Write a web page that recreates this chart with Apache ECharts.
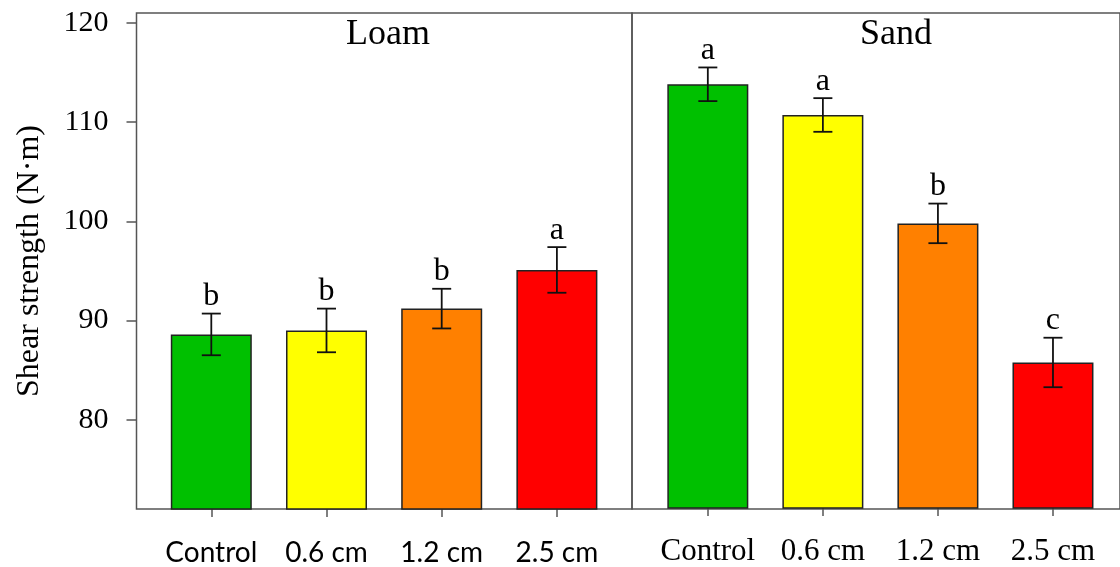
<!DOCTYPE html>
<html>
<head>
<meta charset="utf-8">
<script src="https://cdn.jsdelivr.net/npm/echarts@6/dist/echarts.min.js"></script>
<style>
html,body{margin:0;padding:0;background:#fff;}
#chart{width:1120px;height:567px;}
</style>
</head>
<body>
<div id="chart"></div>
<script>
const categories = ['Control', '0.6 cm', '1.2 cm', '2.5 cm'];
const panelTitles = ['Loam', 'Sand'];
const loamMean = [88.6, 89.0, 91.2, 95.1];
const loamErr = [2.1, 2.2, 2.0, 2.3];
const loamLetters = ['b', 'b', 'b', 'a'];
const sandMean = [113.8, 110.7, 99.75, 85.7];
const sandErr = [1.7, 1.7, 2.0, 2.5];
const sandLetters = ['a', 'a', 'b', 'c'];
const yTicks = [80, 90, 100, 110, 120];
const yMin = 71, yMax = 121;
const barColors = ['#00c000', '#ffff00', '#ff8000', '#ff0000'];

const SERIF = '"Liberation Serif", "Times New Roman", serif';
const SANS = 'Lato, "Open Sans", sans-serif';
const frameColor = '#555';

function errRender(letters) {
  return function (params, api) {
    const x = api.value(0), m = api.value(1), e = api.value(2);
    const top = api.coord([x, m + e]);
    const bot = api.coord([x, m - e]);
    const hw = 9.5;
    const st = { stroke: '#111', lineWidth: 1.8 };
    return {
      type: 'group',
      children: [
        { type: 'line', shape: { x1: top[0], y1: top[1], x2: bot[0], y2: bot[1] }, style: st },
        { type: 'line', shape: { x1: top[0] - hw, y1: top[1], x2: top[0] + hw, y2: top[1] }, style: st },
        { type: 'line', shape: { x1: bot[0] - hw, y1: bot[1], x2: bot[0] + hw, y2: bot[1] }, style: st },
        { type: 'text', x: top[0], y: top[1] - 1,
          style: { text: letters[params.dataIndex], textAlign: 'center', textVerticalAlign: 'bottom',
                   font: '32px ' + SERIF, fill: '#000' } }
      ]
    };
  };
}

const chart = echarts.init(document.getElementById('chart'), null, { renderer: 'canvas' });
const option = {
  animation: false,
  color: barColors,
  title: [
    { text: panelTitles[0], left: 388, top: 17, textAlign: 'center', padding: 0,
      textStyle: { fontFamily: SERIF, fontSize: 36, fontWeight: 'normal', color: '#000' } },
    { text: panelTitles[1], left: 896, top: 17, textAlign: 'center', padding: 0,
      textStyle: { fontFamily: SERIF, fontSize: 36, fontWeight: 'normal', color: '#000' } }
  ],
  grid: [
    { left: 153.7, top: 13, width: 460.8, height: 496 },
    { left: 650.3, top: 13, width: 460.2, height: 496 },
    { left: 136.5, top: 13, width: 495.5, height: 496, show: true, borderColor: frameColor, borderWidth: 1.5, backgroundColor: 'transparent' },
    { left: 632, top: 13, width: 500, height: 496, show: true, borderColor: frameColor, borderWidth: 1.5, backgroundColor: 'transparent' }
  ],
  xAxis: [
    { type: 'category', gridIndex: 0, data: categories,
      axisLine: { show: false },
      axisTick: { show: true, alignWithLabel: true, length: 8, lineStyle: { color: frameColor, width: 1.5 } },
      axisLabel: { interval: 0, fontFamily: SANS, fontSize: 28, color: '#000', margin: 30 } },
    { type: 'category', gridIndex: 1, data: categories,
      axisLine: { show: false },
      axisTick: { show: true, alignWithLabel: true, length: 8, lineStyle: { color: frameColor, width: 1.5 } },
      axisLabel: { interval: 0, fontFamily: SERIF, fontSize: 31, color: '#000', margin: 28 } }
  ],
  yAxis: [
    { type: 'value', gridIndex: 0, min: yMin, max: yMax, offset: 17.2,
      name: 'Shear strength (N·m)', nameLocation: 'middle', nameGap: 91,
      nameTextStyle: { fontFamily: SERIF, fontSize: 32, color: '#000' },
      axisLine: { show: false },
      splitLine: { show: false },
      axisTick: { show: true, length: 10, customValues: yTicks, lineStyle: { color: frameColor, width: 1.5 } },
      axisLabel: { fontFamily: SERIF, fontSize: 30, color: '#000', margin: 28, customValues: yTicks } },
    { type: 'value', gridIndex: 1, min: yMin, max: yMax, show: false, splitLine: { show: false } }
  ],
  series: [
    { type: 'bar', xAxisIndex: 0, yAxisIndex: 0, data: loamMean, barWidth: 81, colorBy: 'data',
      itemStyle: { borderColor: '#222', borderWidth: 1.5 } },
    { type: 'bar', xAxisIndex: 1, yAxisIndex: 1, data: sandMean, barWidth: 81, colorBy: 'data',
      itemStyle: { borderColor: '#222', borderWidth: 1.5 } },
    { type: 'custom', xAxisIndex: 0, yAxisIndex: 0, z: 5,
      data: loamMean.map((v, i) => [i, v, loamErr[i]]), renderItem: errRender(loamLetters) },
    { type: 'custom', xAxisIndex: 1, yAxisIndex: 1, z: 5,
      data: sandMean.map((v, i) => [i, v, sandErr[i]]), renderItem: errRender(sandLetters) }
  ]
};
chart.setOption(option);
</script>
</body>
</html>
